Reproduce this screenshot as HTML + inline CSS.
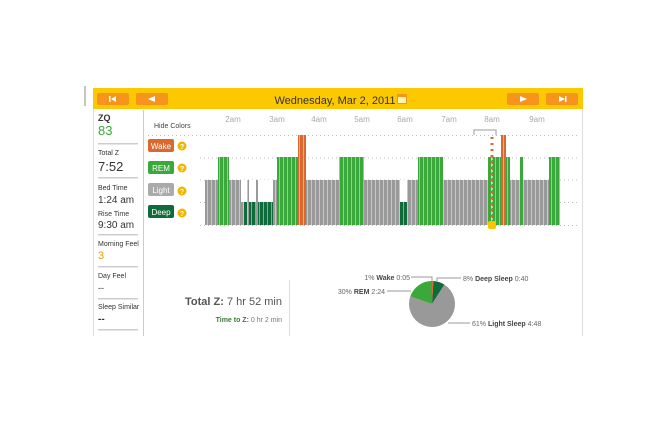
<!DOCTYPE html>
<html><head><meta charset="utf-8"><style>
body{margin:0;background:#fff;width:670px;height:420px;overflow:hidden;font-family:"Liberation Sans",Arial,sans-serif}
</style></head><body>
<svg width="670" height="420" xmlns="http://www.w3.org/2000/svg" font-family="Liberation Sans, Arial, sans-serif">
<defs>
<pattern id="st" width="4" height="10" patternUnits="userSpaceOnUse"><rect x="3" y="0" width="1" height="10" fill="#fff" opacity="0.45"/></pattern>
</defs>
<line x1="85" y1="86" x2="85" y2="106" stroke="#888" stroke-width="1"/>
<rect x="93" y="88" width="490" height="21" fill="#fcc800"/>
<g fill="#f7941d">
<rect x="97" y="93" width="32" height="12" rx="2"/><rect x="136" y="93" width="32" height="12" rx="2"/>
<rect x="507" y="93" width="32" height="12" rx="2"/><rect x="546" y="93" width="32" height="12" rx="2"/>
</g>
<g fill="#fff">
<rect x="109" y="96" width="1.5" height="6"/><polygon points="111,99 116,96 116,102"/>
<polygon points="148,99 155,96 155,102"/>
<polygon points="527,99 520,96 520,102"/>
<polygon points="565,99 559,96 559,102"/><rect x="565" y="96" width="1.5" height="6"/>
</g>
<text x="335" y="104" font-size="11" fill="#333" text-anchor="middle">Wednesday, Mar 2, 2011</text>
<rect x="397" y="94" width="10" height="10" fill="#f7941d"/><rect x="398" y="97" width="8" height="6" fill="#fff3b0"/>
<rect x="93" y="109" width="1" height="227" fill="#ddd"/>
<rect x="582" y="109" width="1" height="227" fill="#ddd"/>
<line x1="143.5" y1="110" x2="143.5" y2="336" stroke="#ccc"/>
<g fill="#333">
<text x="98" y="121" font-size="9" font-weight="bold">ZQ</text>
<text x="98" y="135" font-size="13" fill="#3aa83a">83</text>
<text x="98" y="155" font-size="7">Total Z</text>
<text x="98" y="171" font-size="13">7:52</text>
<text x="98" y="190" font-size="7">Bed Time</text>
<text x="98" y="203" font-size="10">1:24 am</text>
<text x="98" y="216" font-size="7">Rise Time</text>
<text x="98" y="228" font-size="10">9:30 am</text>
<text x="98" y="246" font-size="7">Morning Feel</text>
<text x="98" y="259" font-size="11" fill="#e8a000">3</text>
<text x="98" y="278" font-size="7">Day Feel</text>
<text x="98" y="291" font-size="9">--</text>
<text x="98" y="309" font-size="7">Sleep Similar</text>
<text x="98" y="322" font-size="10" font-weight="bold">--</text>
</g>
<g fill="#ccc"><rect x="98" y="143" width="40" height="1.5"/><rect x="98" y="177" width="40" height="1.5"/><rect x="98" y="234" width="40" height="1.5"/><rect x="98" y="266" width="40" height="1.5"/><rect x="98" y="298" width="40" height="1.5"/><rect x="98" y="329" width="40" height="1.5"/></g>
<text x="154" y="128" font-size="7" fill="#444">Hide Colors</text>
<g font-size="8" fill="#fff" text-anchor="middle">
<rect x="148" y="139" width="26" height="13" rx="2" fill="#d9692f"/><text x="161" y="149">Wake</text>
<rect x="148" y="161" width="26" height="13" rx="2" fill="#3aa83a"/><text x="161" y="171">REM</text>
<rect x="148" y="183" width="26" height="13" rx="2" fill="#aaa"/><text x="161" y="193">Light</text>
<rect x="148" y="205" width="26" height="13" rx="2" fill="#0f6b3a"/><text x="161" y="215">Deep</text>
</g>
<g font-size="7" font-weight="bold" fill="#fff" text-anchor="middle">
<circle cx="182" cy="146" r="4.5" fill="#f2b600"/><text x="182" y="149">?</text>
<circle cx="182" cy="168" r="4.5" fill="#f2b600"/><text x="182" y="171">?</text>
<circle cx="182" cy="191" r="4.5" fill="#f2b600"/><text x="182" y="194">?</text>
<circle cx="182" cy="213" r="4.5" fill="#f2b600"/><text x="182" y="216">?</text>
</g>
<g font-size="8" fill="#aaa" text-anchor="middle">
<text x="233" y="122">2am</text><text x="277" y="122">3am</text><text x="319" y="122">4am</text><text x="362" y="122">5am</text><text x="405" y="122">6am</text><text x="449" y="122">7am</text><text x="492" y="122">8am</text><text x="537" y="122">9am</text>
</g>
<g stroke="#bbb" stroke-dasharray="1,3">
<line x1="148" y1="135.5" x2="578" y2="135.5"/><line x1="200" y1="158" x2="578" y2="158"/><line x1="200" y1="180" x2="578" y2="180"/><line x1="200" y1="202.5" x2="578" y2="202.5"/><line x1="200" y1="225.5" x2="578" y2="225.5"/>
</g>
<g>
<rect x="205" y="180" width="355" height="45" fill="#999"/>
<rect x="218" y="157" width="11" height="68" fill="#3aa83a"/>
<rect x="241" y="180" width="32" height="22" fill="#fff"/>
<rect x="244" y="202" width="29" height="23" fill="#0f6b3a"/>
<rect x="247" y="180" width="2" height="45" fill="#999"/>
<rect x="256" y="180" width="2" height="45" fill="#999"/>
<rect x="277" y="157" width="21" height="68" fill="#3aa83a"/>
<rect x="298" y="135" width="8" height="90" fill="#d9692f"/>
<rect x="339" y="157" width="25" height="68" fill="#3aa83a"/>
<rect x="400" y="180" width="7" height="22" fill="#fff"/>
<rect x="400" y="202" width="7" height="23" fill="#0f6b3a"/>
<rect x="418" y="157" width="25" height="68" fill="#3aa83a"/>
<rect x="488" y="157" width="22" height="68" fill="#3aa83a"/>
<rect x="501" y="135" width="5" height="90" fill="#d9692f"/>
<rect x="520" y="157" width="3" height="68" fill="#3aa83a"/>
<rect x="549" y="157" width="11" height="68" fill="#3aa83a"/>
<rect x="205" y="135" width="355" height="90" fill="url(#st)"/>
</g>
<path d="M474,135 V130 H496 V135" fill="none" stroke="#bbb" stroke-width="1.5"/>
<line x1="492" y1="137" x2="492" y2="222" stroke="#d9692f" stroke-width="3" stroke-dasharray="2,4"/>
<line x1="492" y1="140" x2="492" y2="222" stroke="#fff" stroke-width="1" stroke-dasharray="2,4"/>
<rect x="488" y="221" width="8" height="8" rx="2" fill="#f7c600"/>
<line x1="289.5" y1="280" x2="289.5" y2="336" stroke="#ddd"/>
<text x="282" y="305" font-size="11" fill="#555" text-anchor="end"><tspan font-weight="bold">Total Z:</tspan> 7 hr 52 min</text>
<text x="282" y="322" font-size="7" fill="#777" text-anchor="end"><tspan font-weight="bold" fill="#3a7a3a">Time to Z:</tspan> 0 hr 2 min</text>
<g transform="translate(432,304)">
<path d="M0,0 L0,-23 A23,23 0 0,1 1.44,-22.95 Z" fill="#d9692f"/>
<path d="M0,0 L1.44,-22.95 A23,23 0 0,1 12.4,-19.4 Z" fill="#0f6b3a"/>
<path d="M0,0 L12.4,-19.4 A23,23 0 1,1 -21.7,-7.6 Z" fill="#999"/>
<path d="M0,0 L-21.7,-7.6 A23,23 0 0,1 0,-23 Z" fill="#3aa83a"/>
</g>
<g stroke="#999" stroke-width="1" fill="none">
<polyline points="411,277 432,277 432,281"/>
<polyline points="437,282 437,278 461,278"/>
<line x1="387" y1="291" x2="411" y2="291"/>
<line x1="448" y1="323" x2="470" y2="323"/>
</g>
<g font-size="7" fill="#666">
<text x="410" y="280" text-anchor="end">1% <tspan font-weight="bold" fill="#444">Wake</tspan> 0:05</text>
<text x="463" y="281">8% <tspan font-weight="bold" fill="#444">Deep Sleep</tspan> 0:40</text>
<text x="385" y="294" text-anchor="end">30% <tspan font-weight="bold" fill="#444">REM</tspan> 2:24</text>
<text x="472" y="326">61% <tspan font-weight="bold" fill="#444">Light Sleep</tspan> 4:48</text>
</g>
</svg>
</body></html>
